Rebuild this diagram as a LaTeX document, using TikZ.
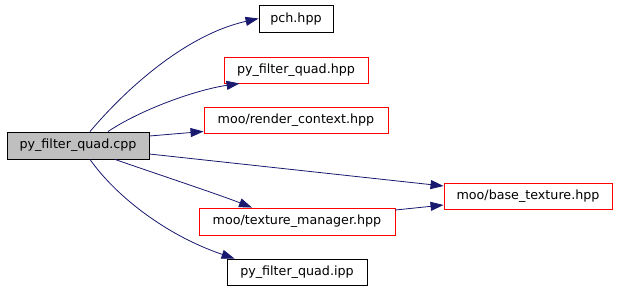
\documentclass[tikz,border=0pt]{standalone}
\usepackage{fontspec}
\setmainfont{DejaVu Sans}
\usetikzlibrary{arrows.meta,calc}
\definecolor{edgeblue}{RGB}{25,25,112}
\definecolor{mainfill}{RGB}{191,191,191}
\begin{document}
\begin{tikzpicture}[x=1pt,y=-1pt,
  file/.style={draw=black,line width=0.9pt,inner sep=0pt,minimum height=26pt,
    font=\fontsize{12.7}{14}\selectfont,text=black},
  redfile/.style={file,draw=red},
  mainfile/.style={file,fill=mainfill,minimum height=27pt},
  dep/.style={draw=edgeblue,line width=0.8pt,
    -{Triangle[length=13pt,width=9pt]},fill=none}]
\useasboundingbox (0,0) rectangle (618,290);
\fill[white] (0,0) rectangle (618,290);

% include-graph nodes
\node[mainfile,minimum width=142pt] (main) at (78,145.5) {py\_filter\_quad.cpp};
\node[file,minimum width=74pt,minimum height=27pt] (pch) at (296,18.5) {pch.hpp};
\node[redfile,minimum width=144pt] (pfq) at (296,70) {py\_filter\_quad.hpp};
\node[redfile,minimum width=184pt] (rc) at (296,120) {moo/render\_context.hpp};
\node[redfile,minimum width=168pt] (bt) at (528,196) {moo/base\_texture.hpp};
\node[redfile,minimum width=196pt,minimum height=27pt] (tm) at (297,221.5) {moo/texture\_manager.hpp};
\node[file,minimum width=140pt] (ipp) at (297,272) {py\_filter\_quad.ipp};

% dependencies
\draw[dep] ($(main.north)+(12,0)$) .. controls (125,90) and (185,35) .. (pch.west);
\draw[dep] ($(main.north)+(30,0)$) .. controls (140,110) and (195,90) .. ($(pfq.south west)+(16,0)$);
\draw[dep] ($(main.east)+(0,-9.5)$) -- ($(rc.south west)+(0,-2)$);
\draw[dep] ($(main.east)+(0,8.5)$) -- ($(bt.west)+(0,-10)$);
\draw[dep] ($(main.south)+(37,0)$) .. controls (160,175) and (220,195) .. ($(tm.north)+(-45,0)$);
\draw[dep] ($(main.south)+(12,0)$) .. controls (115,195) and (165,235) .. ($(ipp.north west)+(8,0)$);
\draw[dep] ($(tm.east)+(0,-11.5)$) -- ($(bt.west)+(0,9)$);
\end{tikzpicture}
\end{document}
